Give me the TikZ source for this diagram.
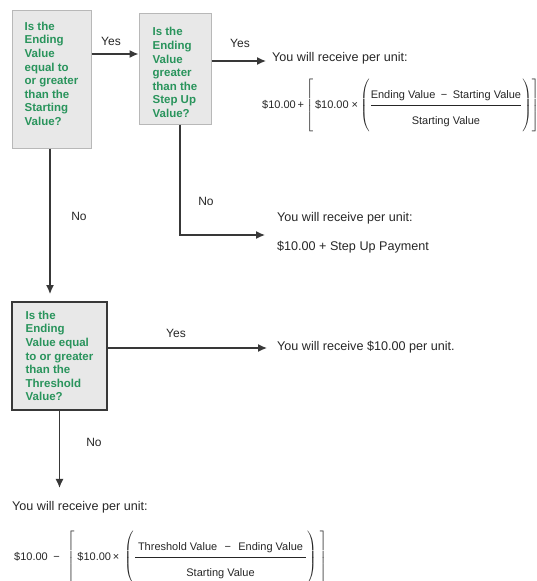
\documentclass[tikz,border=0pt]{standalone}
\usepackage{amsmath}
\usepackage{fontspec}
\setmainfont{Liberation Sans}
\usetikzlibrary{arrows.meta,calc}
\definecolor{QuestClr}{rgb}{0.16,0.58,0.36}
\definecolor{BoxClr}{rgb}{0.91,0.91,0.91}
\definecolor{EdgeClr}{rgb}{0.72,0.72,0.72}
\definecolor{LineClr}{rgb}{0.22,0.22,0.22}
\definecolor{TextClr}{rgb}{0.15,0.15,0.15}

\newcommand{\Amt}{\$10.00}

\begin{document}
\begin{tikzpicture}[x=1pt,y=-1pt,
  quest/.style={draw=EdgeClr,line width=1pt,fill=BoxClr,text=QuestClr,
    font=\fontsize{11.5}{13.6}\selectfont\bfseries,align=left,inner sep=0pt},
  answer/.style={text=TextClr,font=\fontsize{12.6}{14}\selectfont,anchor=west,inner sep=0pt},
  formula/.style={text=TextClr,font=\fontsize{11}{13}\selectfont,anchor=west,inner sep=0pt},
  lbl/.style={text=TextClr,font=\fontsize{12}{14}\selectfont,inner sep=0pt},
  flow/.style={draw=LineClr,line width=1.3pt,-{Latex[length=9pt,width=8pt]}}]
\useasboundingbox (0,0) rectangle (537,581);
\clip (0,0) rectangle (537,581);

% questions
\node[quest,minimum width=79pt,minimum height=138pt] (q1) at (51.5,79)
  {Is the\\Ending\\Value\\equal to\\or greater\\than the\\Starting\\Value?\rule[-10.5pt]{0pt}{0pt}};
\node[quest,minimum width=72pt,minimum height=111pt] (q2) at (175,68.5)
  {\rule{0pt}{16.5pt}Is the\\Ending\\Value\\greater\\than the\\Step Up\\Value?};
\node[quest,draw=LineClr,line width=1.8pt,minimum width=95pt,minimum height=108pt] (q3) at (59.5,356)
  {Is the\\Ending\\Value equal\\to or greater\\than the\\Threshold\\Value?};

% payoffs
\node[answer] (r1) at (272,58) {You will receive per unit:};
\node[formula] (f1) at (262,106)
  {$\text{\Amt\,+}\left[\text{\,\Amt\ ×}\left(\rule[-25pt]{0pt}{55pt}\genfrac{}{}{1pt}{0}{\text{Ending Value\enspace−\enspace Starting Value}\rule[-4pt]{0pt}{0pt}}{\rule{0pt}{15pt}\text{Starting Value}}\right)\right]$};
\node[answer] (r2a) at (277,218) {You will receive per unit:};
\node[answer] (r2b) at (277,247) {\Amt\ + Step Up Payment};
\node[answer] (r3) at (277,347) {You will receive \Amt\ per unit.};
\node[answer] (r4) at (12,507) {You will receive per unit:};
\node[formula] (f2) at (14,558)
  {$\text{\Amt\enspace−\enspace}\left[\text{\;\Amt\,×\;}\left(\rule[-25pt]{0pt}{55pt}\genfrac{}{}{1pt}{0}{\hspace{3pt}\text{Threshold Value\enspace\,−\,\enspace Ending Value}\hspace{3pt}\rule[-4pt]{0pt}{0pt}}{\rule{0pt}{15pt}\text{Starting Value}}\right)\;\right]$};

% connectors
\coordinate (y1) at ($(q1.east)+(0,-25)$);
\coordinate (y2) at ($(q2.east)+(0,-7.5)$);
\coordinate (y3) at ($(q3.east)+(0,-8)$);
\coordinate (c1) at ($(q1.south)+(-1.5,0)$);
\coordinate (c2) at ($(q2.south)+(5,0)$);
\coordinate (e2) at ($(r2b.west)+(-12,-12)$);

\draw[flow] (y1) -- (y1 -| q2.west);
\draw[flow,shorten >=6pt] (y2) -- (y2 -| r1.west);
\draw[flow] (c2) |- (e2);
\draw[flow,shorten >=7pt] (c1) -- (c1 |- q3.north);
\draw[flow,shorten >=10pt] (y3) -- (y3 -| r3.west);
\draw[flow,shorten >=13pt] (q3.south) -- (q3.south |- r4.north);

\node[lbl] (yes1) at (111,41) {Yes};
\node[lbl] (yes2) at (240,43) {Yes};
\node[lbl] (yes3) at (176,333) {Yes};
\node[lbl] (no1) at (79,216) {No};
\node[lbl] (no2) at (206,201) {No};
\node[lbl] (no3) at (94,442) {No};

\end{tikzpicture}
\end{document}
